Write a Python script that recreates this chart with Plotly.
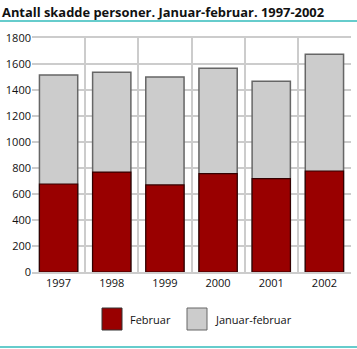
import plotly.graph_objects as go

years = ["1997", "1998", "1999", "2000", "2001", "2002"]
jan_feb = [1515, 1536, 1500, 1568, 1467, 1675]
februar = [677, 769, 670, 757, 718, 777]
series_names = ["Februar", "Januar-februar"]
colors = ["#990000", "#cccccc"]
title = "Antall skadde personer. Januar-februar. 1997-2002"
y_ticks = [0, 200, 400, 600, 800, 1000, 1200, 1400, 1600, 1800]

fig = go.Figure()
fig.add_trace(go.Bar(x=years, y=jan_feb, name=series_names[1], width=0.72,
                     marker=dict(color=colors[1], line=dict(color="#666666", width=1.5))))
fig.add_trace(go.Bar(x=years, y=februar, name=series_names[0], width=0.72,
                     marker=dict(color=colors[0], line=dict(color="#330000", width=1.2))))

fig.update_layout(
    width=357, height=349,
    margin=dict(l=32, r=6, t=38, b=77),
    barmode="overlay",
    showlegend=False,
    plot_bgcolor="white", paper_bgcolor="white",
    font=dict(family="Open Sans", size=10.5, color="#111111"),
    xaxis=dict(type="category", tickson="boundaries", showgrid=True,
               gridcolor="#cccccc", gridwidth=2, ticks="", showline=True,
               linecolor="#cccccc", linewidth=2, mirror=True,
               tickfont=dict(size=11)),
    yaxis=dict(range=[0, 1800], tickvals=y_ticks, showgrid=True,
               gridcolor="#cccccc", gridwidth=1.5, zeroline=False,
               ticks="", showline=False, tickfont=dict(size=11)),
)

fig.add_annotation(text="<b>" + title + "</b>", xref="paper", yref="paper",
                   x=-32/319, y=1 + 26/234, xanchor="left", yanchor="middle",
                   showarrow=False, font=dict(size=12.9, color="#111111", family="Open Sans"))
# teal separator lines
fig.add_shape(type="line", xref="paper", yref="paper", x0=-32/319, x1=1 + 6/319,
              y0=1 + 17/234, y1=1 + 17/234, line=dict(color="#66cccc", width=2))
fig.add_shape(type="line", xref="paper", yref="paper", x0=-32/319, x1=1 + 6/319,
              y0=-75/234, y1=-75/234, line=dict(color="#66cccc", width=2))

# legend
items = [(series_names[0], colors[0], "#333333", 102), (series_names[1], colors[1], "#666666", 187)]
for name, col, lc, px in items:
    fig.add_shape(type="rect", xref="paper", yref="paper",
                  x0=(px - 32) / 319, x1=(px + 20 - 32) / 319,
                  y0=(272 - 330) / 234, y1=(272 - 308) / 234,
                  fillcolor=col, line=dict(color=lc, width=1))
    fig.add_annotation(text=name, xref="paper", yref="paper",
                       x=(px + 26 - 32) / 319, y=(272 - 319) / 234,
                       xanchor="left", yanchor="middle", showarrow=False,
                       font=dict(size=11))

fig.write_html("out.html")
